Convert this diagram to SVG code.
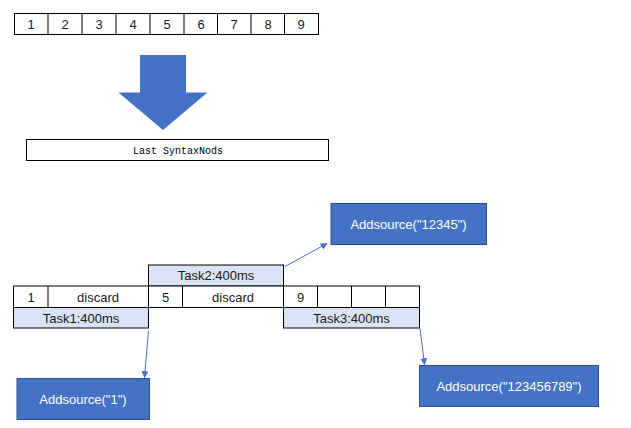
<svg xmlns="http://www.w3.org/2000/svg" width="631" height="428" viewBox="0 0 631 428">
<style>
.cell{fill:#fff;stroke:#000;stroke-width:1}
.task{fill:#DAE3F3;stroke:#000;stroke-width:1}
.blue{fill:#4472C4;stroke:#2F528F;stroke-width:1}
.t{font-family:"Liberation Sans","Noto Sans CJK SC",sans-serif;font-size:13px;fill:#1a1a1a;text-anchor:middle}
.w{font-family:"Liberation Sans","Noto Sans CJK SC",sans-serif;font-size:13px;fill:#fff;text-anchor:middle}
.m{font-family:"Liberation Mono","Noto Sans CJK SC",monospace;font-size:10px;fill:#000}
.conn{stroke:#4472C4;stroke-width:1;fill:none;marker-end:url(#ah)}
</style>
<defs>
<marker id="ah" viewBox="0 0 10 10" refX="9" refY="5" markerWidth="7" markerHeight="7" markerUnits="userSpaceOnUse" orient="auto">
<path d="M0,0 L10,5 L0,10 z" fill="#4472C4"/>
</marker>
</defs>
<rect width="631" height="428" fill="#fff"/>
<g id="top-row">
<rect class="cell" x="14.5" y="13.5" width="304" height="21"/>
<line x1="48" y1="13.5" x2="48" y2="34.5" stroke="#000"/>
<line x1="82" y1="13.5" x2="82" y2="34.5" stroke="#000"/>
<line x1="116" y1="13.5" x2="116" y2="34.5" stroke="#000"/>
<line x1="150" y1="13.5" x2="150" y2="34.5" stroke="#000"/>
<line x1="184" y1="13.5" x2="184" y2="34.5" stroke="#000"/>
<line x1="217.5" y1="13.5" x2="217.5" y2="34.5" stroke="#000"/>
<line x1="251" y1="13.5" x2="251" y2="34.5" stroke="#000"/>
<line x1="284.5" y1="13.5" x2="284.5" y2="34.5" stroke="#000"/>
<text class="t" x="31" y="29">1</text>
<text class="t" x="65" y="29">2</text>
<text class="t" x="99" y="29">3</text>
<text class="t" x="133" y="29">4</text>
<text class="t" x="167" y="29">5</text>
<text class="t" x="201" y="29">6</text>
<text class="t" x="234" y="29">7</text>
<text class="t" x="268" y="29">8</text>
<text class="t" x="301" y="29">9</text>
</g>
<g id="block-arrow">
<polygon points="140,55 186,55 186,92.5 207.5,92.5 163,130 118.5,92.5 140,92.5" fill="#4472C4"/>
</g>
<g id="last-syntax">
<rect class="cell" x="26.5" y="139.5" width="302" height="21"/>
<text class="m" x="133" y="154">Last SyntaxNods</text>
</g>
<g id="task2">
<rect class="task" x="148.5" y="265" width="135" height="21"/>
<text class="t" x="216" y="280">Task2:400ms</text>
</g>
<g id="mid-row">
<rect class="cell" x="13.5" y="286" width="406" height="21.5"/>
<line x1="48" y1="286" x2="48" y2="307.5" stroke="#000"/>
<line x1="148.5" y1="286" x2="148.5" y2="307.5" stroke="#000"/>
<line x1="182.5" y1="286" x2="182.5" y2="307.5" stroke="#000"/>
<line x1="283.5" y1="286" x2="283.5" y2="307.5" stroke="#000"/>
<line x1="317.5" y1="286" x2="317.5" y2="307.5" stroke="#000"/>
<line x1="351.5" y1="286" x2="351.5" y2="307.5" stroke="#000"/>
<line x1="385.5" y1="286" x2="385.5" y2="307.5" stroke="#000"/>
<text class="t" x="31" y="301.5">1</text>
<text class="t" x="98" y="301.5">discard</text>
<text class="t" x="165.5" y="301.5">5</text>
<text class="t" x="233" y="301.5">discard</text>
<text class="t" x="300.5" y="301.5">9</text>
</g>
<g id="task1">
<rect class="task" x="13.5" y="307.5" width="135" height="20.5"/>
<text class="t" x="81" y="322.5">Task1:400ms</text>
</g>
<g id="task3">
<rect class="task" x="283.5" y="307.5" width="136" height="20.5"/>
<text class="t" x="351.5" y="322.5">Task3:400ms</text>
</g>
<g id="add12345">
<rect class="blue" x="331" y="203.5" width="155.5" height="41"/>
<text class="w" x="408.5" y="229">Addsource("12345")</text>
</g>
<g id="add1">
<rect class="blue" x="17" y="378.5" width="132.5" height="41"/>
<text class="w" x="83" y="404">Addsource("1")</text>
</g>
<g id="add123456789">
<rect class="blue" x="419.5" y="365.5" width="179" height="41"/>
<text class="w" x="509" y="391">Addsource("123456789")</text>
</g>
<g id="connectors">
<line class="conn" x1="285" y1="266.5" x2="327" y2="243.5"/>
<line class="conn" x1="148.5" y1="331" x2="144.5" y2="377.5"/>
<line class="conn" x1="420" y1="328.5" x2="424.5" y2="364.5"/>
</g>
</svg>
